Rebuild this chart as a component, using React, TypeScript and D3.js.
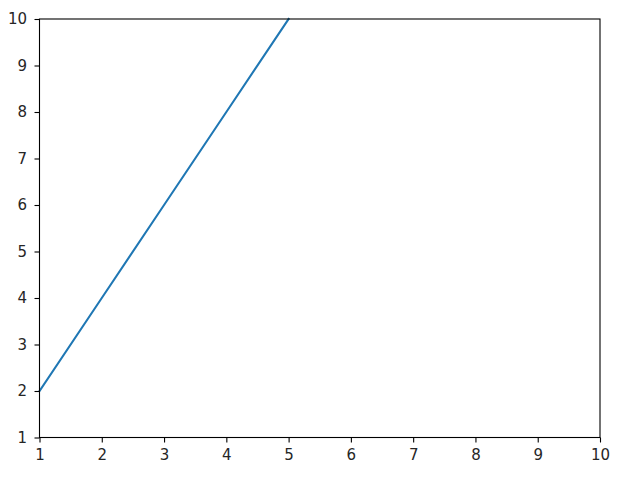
import React, { useEffect, useRef } from 'react';
import * as d3 from 'd3';

// data
const xValues = [1, 2, 3, 4, 5];
const yValues = [2, 4, 6, 8, 10];
const xTicks = [1, 2, 3, 4, 5, 6, 7, 8, 9, 10];
const yTicks = [1, 2, 3, 4, 5, 6, 7, 8, 9, 10];

const App: React.FC = () => {
  const svgRef = useRef<SVGSVGElement>(null);

  useEffect(() => {
    if (!svgRef.current) return;
    const svg = d3.select(svgRef.current);
    svg.selectAll('*').remove();

    const width = 628;
    const height = 482;
    const margin = { top: 19, right: 28, bottom: 44.5, left: 39.5 };

    const xScale = d3.scaleLinear()
      .domain([1, 10])
      .range([margin.left, width - margin.right]);

    const yScale = d3.scaleLinear()
      .domain([1, 10])
      .range([height - margin.bottom, margin.top]);

    svg.append('rect')
      .attr('width', width)
      .attr('height', height)
      .attr('fill', '#ffffff');

    // Line
    const line = d3.line<number>()
      .x((_, i) => xScale(xValues[i]))
      .y(d => yScale(d));

    svg.append('path')
      .datum(yValues)
      .attr('fill', 'none')
      .attr('stroke', '#1f77b4')
      .attr('stroke-width', 2.08)
      .attr('stroke-linecap', 'square')
      .attr('d', line);

    // Axes
    const font = '"DejaVu Sans", sans-serif';
    const xAxis = svg.append('g')
      .attr('transform', `translate(0,${height - margin.bottom})`)
      .call(d3.axisBottom(xScale).tickValues(xTicks).tickSize(5).tickPadding(6.5).tickFormat(d3.format('d')));

    const yAxis = svg.append('g')
      .attr('transform', `translate(${margin.left},0)`)
      .call(d3.axisLeft(yScale).tickValues(yTicks).tickSize(5).tickPadding(7.5).tickFormat(d3.format('d')));

    [xAxis, yAxis].forEach(g => {
      g.select('.domain').remove();
      g.selectAll('.tick line').attr('stroke', '#000').attr('stroke-width', 1.1);
      g.selectAll('.tick text')
        .attr('fill', '#262626')
        .style('font-family', font)
        .style('font-size', '15px');
    });

    // Frame (spines)
    svg.append('rect')
      .attr('x', margin.left)
      .attr('y', margin.top)
      .attr('width', width - margin.left - margin.right)
      .attr('height', height - margin.top - margin.bottom)
      .attr('fill', 'none')
      .attr('stroke', '#000')
      .attr('stroke-width', 1.1);
  }, []);

  return (
    <svg
      ref={svgRef}
      width={628}
      height={482}
      style={{ position: 'absolute', top: 0, left: 0 }}
    />
  );
};

export default App;
